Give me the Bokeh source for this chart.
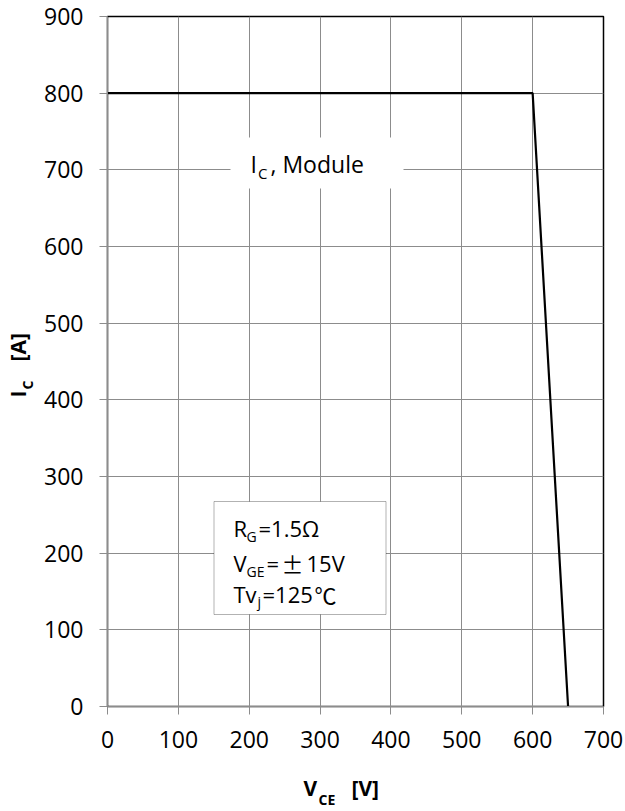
import math
from bokeh.plotting import figure
from bokeh.models import Range1d, FixedTicker, Label, BoxAnnotation
from bokeh.layouts import row, column
from bokeh.embed import file_html
from bokeh.resources import INLINE

# data
vce = [0, 600, 650]
ic = [800, 800, 0]
x_ticks = [0, 100, 200, 300, 400, 500, 600, 700]
y_ticks = [0, 100, 200, 300, 400, 500, 600, 700, 800, 900]

W, H = 625, 811
L, R, T, B = 107, 603, 16, 706      # plot frame in page pixels
LS = 38                             # width of the left strip (y-axis title)
BS = 770                            # top of the bottom strip (x-axis title)
FONT = "Open Sans"
CJK = "Noto Sans CJK SC"
BASE_FIX = 0.44                     # baseline correction, in em

p = figure(width=W - LS, height=BS, output_backend="svg", toolbar_location=None,
           x_range=Range1d(0, 700), y_range=Range1d(0, 900),
           min_border_left=L - LS, min_border_right=W - R,
           min_border_top=T, min_border_bottom=BS - B)
p.background_fill_color = "white"
p.border_fill_color = "white"
p.outline_line_color = "black"
p.outline_line_width = 1.5

for ax, ticks in ((p.xaxis, x_ticks), (p.yaxis, y_ticks)):
    ax.ticker = FixedTicker(ticks=ticks)
    ax.minor_tick_line_color = None
    ax.major_tick_in = 0
    ax.major_tick_out = 8
    ax.axis_line_color = "#8c8c8c"
    ax.major_tick_line_color = "#8c8c8c"
    ax.major_label_text_font = FONT
    ax.major_label_text_font_size = "23px"
    ax.major_label_text_color = "black"
p.xaxis.major_label_standoff = 16
p.yaxis.major_label_standoff = 16

for g in (p.xgrid, p.ygrid):
    g.grid_line_color = "#8c8c8c"
    g.grid_line_width = 1

p.line(vce, ic, line_color="black", line_width=2.2)


def px2x(px):
    return (px - L) * 700.0 / (R - L)


def px2y(py):
    return (B - py) * 900.0 / (B - T)


def dlabel(txt, px, py, size, font=FONT, bold=False):
    py = py - BASE_FIX * size
    p.add_layout(Label(x=px2x(px), y=px2y(py), text=txt, text_font=font,
                       text_font_size=f"{size}px", text_color="black",
                       text_font_style="bold" if bold else "normal",
                       text_align="left", text_baseline="alphabetic"))


# "I_C, Module" annotation
p.add_layout(BoxAnnotation(left=px2x(230), right=px2x(403), top=px2y(137), bottom=px2y(188),
                           fill_color="white", fill_alpha=1, line_color=None))
dlabel("I", 250, 173.5, 23)
dlabel("C", 257.5, 179, 15)
dlabel(", Module", 270, 173.5, 23)

# conditions box
p.add_layout(BoxAnnotation(left=px2x(213.5), right=px2x(385.5), top=px2y(501), bottom=px2y(614),
                           fill_color="white", fill_alpha=1, line_color="black", line_width=1))
dlabel("R", 233, 537, 22)
dlabel("G", 246, 542, 14)
dlabel("=1.5Ω", 258, 537, 22)
dlabel("V", 233, 572, 22)
dlabel("GE", 246, 577, 14)
dlabel("=", 266, 572, 22)
dlabel("±", 281, 572, 22, font=CJK)
dlabel("15V", 306, 572, 22)
dlabel("Tv", 233, 603, 22)
dlabel("j", 257, 607, 14)
dlabel("=125", 262, 603, 22)
dlabel("℃", 314, 603, 22, font=CJK)


def strip(width, height, xr, yr, bl, br, bt, bb):
    s = figure(width=width, height=height, output_backend="svg", toolbar_location=None,
               x_range=Range1d(*xr), y_range=Range1d(*yr),
               x_axis_type=None, y_axis_type=None,
               min_border_left=bl, min_border_right=br,
               min_border_top=bt, min_border_bottom=bb)
    s.outline_line_color = None
    s.background_fill_color = "white"
    s.border_fill_color = "white"
    s.xgrid.visible = False
    s.ygrid.visible = False
    return s


def slabel(fig, txt, px, py, size, rotated=False):
    if rotated:
        px = px - BASE_FIX * size
    else:
        py = py - BASE_FIX * size
    fig.add_layout(Label(x=px, y=py, text=txt, text_font=FONT, text_font_size=f"{size}px",
                         text_font_style="bold", text_color="black", text_align="left",
                         text_baseline="alphabetic", angle=math.pi / 2 if rotated else 0.0))


# left strip: y-axis title; its frame spans page rows T..B, data units = page pixels
left = strip(LS, H, (0, LS), (B, T), 0, 0, T, H - B)
slabel(left, "I", 27, 397, 21, True)
slabel(left, "C", 33, 389, 14, True)
slabel(left, "[A]", 27, 361, 21, True)

# bottom strip: x-axis title; its frame spans page columns L..R
bottom = strip(W - LS, H - BS, (L, R), (H, BS), L - LS, W - R, 0, 0)
slabel(bottom, "V", 303, 797, 21)
slabel(bottom, "CE", 318, 805, 14)
slabel(bottom, "[V]", 351, 797, 21)

layout = row(left, column(p, bottom))
open("out.html", "w").write(file_html(layout, INLINE))
